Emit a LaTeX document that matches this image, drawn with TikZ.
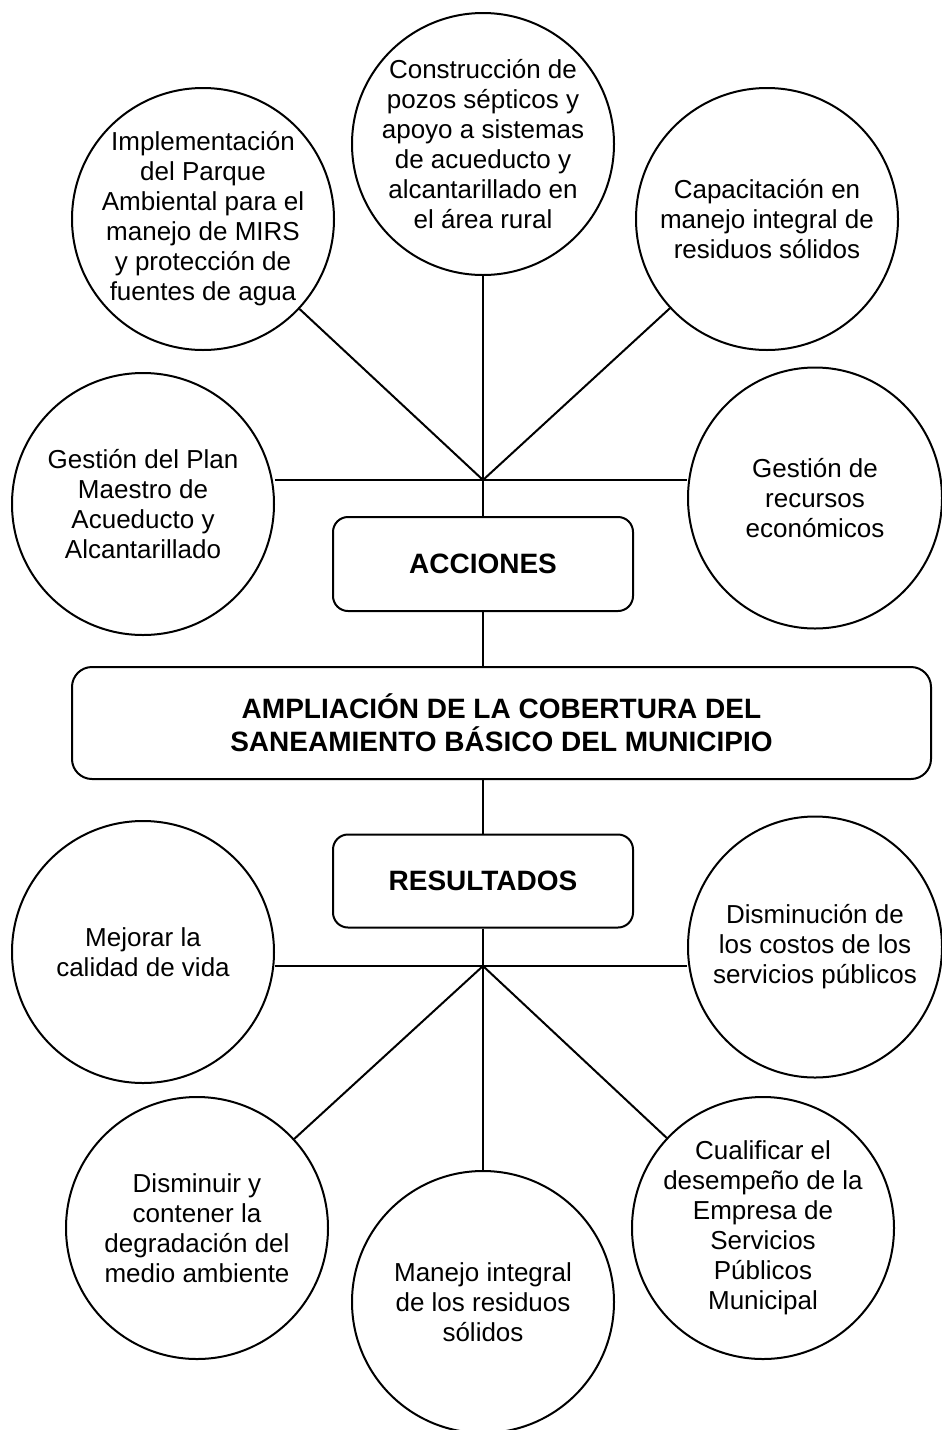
\documentclass[tikz,border=0pt]{standalone}
\usepackage{fontspec}
\setmainfont{Liberation Sans}
\usetikzlibrary{shapes.geometric}

\begin{document}
\begin{tikzpicture}[x=1pt, y=-1pt, line width=2pt,
    circ/.style={draw, circle, minimum size=262pt, inner sep=-8pt, align=center, font=\fontsize{26}{30}\selectfont},
    ovalo/.style={draw, ellipse, minimum width=254pt, minimum height=261pt, inner sep=-35pt, align=center, font=\fontsize{26}{30}\selectfont},
    caja/.style={draw, rounded corners=15pt, minimum width=300pt, minimum height=94pt, align=center, font=\fontsize{28}{33}\selectfont\bfseries}]
            \useasboundingbox (0,0) rectangle (942,1430);

            % Acciones
            \node[circ] (constr) at (483,144) {Construcción de\\pozos sépticos y\\apoyo a sistemas\\de acueducto y\\alcantarillado en\\el área rural};
            \node[circ] (impl) at (203,219) {Implementación\\del Parque\\Ambiental para el\\manejo de MIRS\\y protección de\\fuentes de agua};
            \node[circ] (capac) at (767,219) {Capacitación en\\manejo integral de\\residuos sólidos};
            \node[circ] (plan) at (143,504) {Gestión del Plan\\Maestro de\\Acueducto y\\Alcantarillado};
            \node[ovalo] (recursos) at (815,498) {Gestión de\\recursos\\económicos};
            \node[caja] (acciones) at (483,564) {ACCIONES};
            \coordinate (hubA) at (483,480);

            % Objetivo central
            \node[caja, minimum width=859pt, minimum height=112pt, rounded corners=20pt] (meta) at (501.5,723) {AMPLIACIÓN DE LA COBERTURA DEL\\SANEAMIENTO BÁSICO DEL MUNICIPIO};

            % Resultados
            \node[caja, minimum height=93pt] (result) at (483,881) {RESULTADOS};
            \node[circ] (mejorar) at (143,952) {Mejorar la\\calidad de vida};
            \node[ovalo] (costos) at (815,947) {Disminución de\\los costos de los\\servicios públicos};
            \node[circ] (disminuir) at (197,1228) {Disminuir y\\contener la\\degradación del\\medio ambiente};
            \node[circ] (manejo) at (483,1302) {Manejo integral\\de los residuos\\sólidos};
            \node[circ] (cualif) at (763,1228) {Cualificar el\\desempeño de la\\Empresa de\\Servicios\\Públicos\\Municipal};
            \coordinate (hubB) at (483,966);

            % Conectores
            \draw (constr) -- (acciones);
            \draw (impl) -- (hubA);
            \draw (capac) -- (hubA);
            \draw (hubA -| plan.east) -- (hubA -| recursos.west);
            \draw (acciones.south) -- (acciones.south |- meta.north);
            \draw (meta.south -| result.north) -- (result.north);
            \draw (result) -- (manejo);
            \draw (hubB -| mejorar.east) -- (hubB -| costos.west);
            \draw (hubB) -- (disminuir);
            \draw (hubB) -- (cualif);
        \end{tikzpicture}
\end{document}
